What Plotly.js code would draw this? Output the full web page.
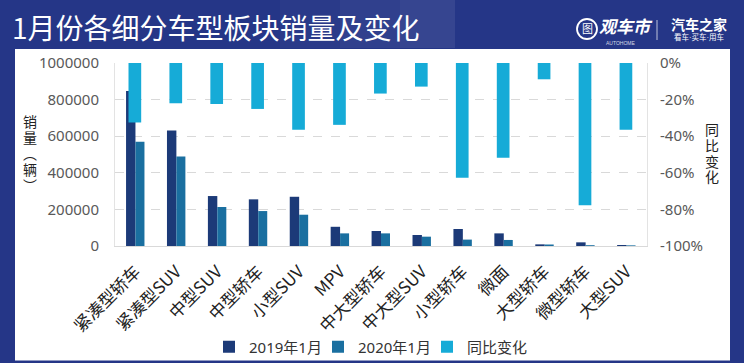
<!DOCTYPE html>
<html>
<head>
<meta charset="utf-8">
<script src="https://cdn.plot.ly/plotly-3.0.1.min.js"></script>
<style>
html,body{margin:0;padding:0;background:#253687;}
#chart{width:744px;height:363px;}
</style>
</head>
<body>
<div id="chart"></div>
<script>
// ---- data ----
const categories = ['紧凑型轿车','紧凑型SUV','中型SUV','中型轿车','小型SUV','MPV','中大型轿车','中大型SUV','小型轿车','微面','大型轿车','微型轿车','大型SUV'];
const sales2019 = [847000, 631000, 273000, 255000, 269000, 105000, 82000, 60000, 93000, 69000, 9000, 20000, 5500];
const sales2020 = [569000, 489000, 213000, 191000, 171000, 69000, 69000, 51000, 35000, 33000, 8200, 4400, 3500];
const yoyChange = [-32.5, -22, -22.4, -25.1, -36.5, -33.8, -16.7, -12.9, -62.7, -51.8, -8.9, -77.8, -36.5];
const salesTickVals = [0, 200000, 400000, 600000, 800000, 1000000];
const yoyTickVals = [0, -20, -40, -60, -80, -100];
const yoyTickText = ['0%', '-20%', '-40%', '-60%', '-80%', '-100%'];
const seriesNames = ['2019年1月', '2020年1月', '同比变化'];
const titleText = '1月份各细分车型板块销量及变化';
const leftTitleChars = ['销', '量', '︵', '辆', '︶'];
const rightTitleChars = ['同', '比', '变', '化'];

// ---- layout helpers (pixel -> paper) ----
const W = 744, H = 363;
const M = {l: 115, r: 97, t: 63, b: 117};
const PW = W - M.l - M.r, PH = H - M.t - M.b;
const px = x => (x - M.l) / PW;
const py = y => (H - M.b - y) / PH;

const FONT = 'Noto Sans, Noto Sans CJK SC, sans-serif';
const CJK = 'Noto Sans CJK SC, sans-serif';
const TIGHT = 'Liberation Sans, Noto Sans CJK SC, sans-serif';
const NAVY = '#253687';

const traces = [
  {type: 'bar', x: categories, y: sales2019, name: seriesNames[0], legend: 'legend',
   marker: {color: '#1c3a78'}, width: 0.23, offset: -0.23, hoverinfo: 'skip'},
  {type: 'bar', x: categories, y: sales2020, name: seriesNames[1], legend: 'legend2',
   marker: {color: '#1a6fa0'}, width: 0.22, offset: 0.0, hoverinfo: 'skip'},
  {type: 'bar', x: categories, y: yoyChange, name: seriesNames[2], yaxis: 'y2', legend: 'legend3',
   marker: {color: '#16abd7'}, width: 0.31, offset: -0.17, hoverinfo: 'skip'}
];

const shapes = [
  {type: 'rect', xref: 'paper', yref: 'paper', x0: px(15), x1: px(730), y0: py(360.5), y1: py(49),
   fillcolor: '#ffffff', line: {width: 0}, layer: 'below'},
  {type: 'rect', xref: 'paper', yref: 'paper', x0: px(280), x1: px(340), y0: py(48), y1: py(0),
   fillcolor: 'rgba(255,255,255,0.025)', line: {width: 0}, layer: 'below'},
  {type: 'rect', xref: 'paper', yref: 'paper', x0: px(340), x1: px(400), y0: py(48), y1: py(0),
   fillcolor: 'rgba(255,255,255,0.05)', line: {width: 0}, layer: 'below'},
  {type: 'rect', xref: 'paper', yref: 'paper', x0: px(400), x1: px(455), y0: py(48), y1: py(0),
   fillcolor: 'rgba(255,255,255,0.08)', line: {width: 0}, layer: 'below'},
  {type: 'circle', xref: 'paper', yref: 'paper', x0: px(577), x1: px(597), y0: py(39), y1: py(19),
   fillcolor: 'rgba(0,0,0,0)', line: {color: '#ffffff', width: 1.8}, layer: 'above'},
  {type: 'line', xref: 'paper', yref: 'paper', x0: px(657), x1: px(657), y0: py(40), y1: py(20),
   line: {color: 'rgba(255,255,255,0.7)', width: 1}, layer: 'above'}
];

const ann = (x, y, text, size, color, family, extra) => Object.assign({
  xref: 'paper', yref: 'paper', x: px(x), y: py(y), xanchor: 'center', yanchor: 'middle',
  text: text, showarrow: false, borderpad: 0, font: {family: family, size: size, color: color}}, extra || {});

const annotations = [
  ann(11, 27, titleText, 28, '#ffffff', CJK, {xanchor: 'left'}),
  ann(587, 29, '图', 11, '#ffffff', TIGHT),
  ann(598, 27, '<b><i>观车市</i></b>', 17, '#ffffff', TIGHT, {xanchor: 'left'}),
  ann(620, 42.5, 'AUTOHOME', 5, 'rgba(255,255,255,0.8)', TIGHT),
  ann(699, 24.5, '<b>汽车之家</b>', 14, '#ffffff', TIGHT),
  ann(699, 37.5, '看车·买车·用车', 7.5, '#ffffff', TIGHT)
];
const leftCenters = [121.5, 137.5, 153.5, 170, 186];
leftTitleChars.forEach((c, i) => annotations.push(ann(30, leftCenters[i], c, 14, '#222222', TIGHT)));
const rightCenters = [130, 145.8, 161.6, 177.4];
rightTitleChars.forEach((c, i) => annotations.push(ann(712, rightCenters[i], c, 14, '#222222', TIGHT)));

const legendBase = {orientation: 'h', xref: 'container', yref: 'container', xanchor: 'left',
  y: 1 - 347 / H, yanchor: 'middle', font: {family: FONT, size: 15, color: '#333333'},
  itemwidth: 30, bgcolor: 'rgba(0,0,0,0)'};

const layout = {
  width: W, height: H,
  margin: M,
  paper_bgcolor: NAVY,
  plot_bgcolor: 'rgba(0,0,0,0)',
  font: {family: FONT, color: '#595959'},
  barmode: 'overlay',
  showlegend: true,
  legend: Object.assign({}, legendBase, {x: 209 / W}),
  legend2: Object.assign({}, legendBase, {x: 318 / W}),
  legend3: Object.assign({}, legendBase, {x: 427 / W}),
  xaxis: {type: 'category', tickangle: -45, tickfont: {family: CJK, size: 17, color: '#222222'},
          showline: true, linecolor: '#d9d9d9', linewidth: 1, showgrid: false, ticks: '',
          ticklabelstandoff: 8, automargin: false, fixedrange: true},
  yaxis: {range: [0, 1000000], tickvals: salesTickVals, tickformat: 'd',
          tickfont: {family: FONT, size: 15, color: '#595959'},
          showgrid: true, gridcolor: '#d9d9d9', griddash: 'dash', gridwidth: 1,
          showline: true, mirror: true, linecolor: '#e3e3e3', zeroline: false,
          ticks: '', ticklabelstandoff: 12, automargin: false, fixedrange: true},
  yaxis2: {range: [-100, 0], overlaying: 'y', side: 'right', tickvals: yoyTickVals, ticktext: yoyTickText,
           tickfont: {family: FONT, size: 15, color: '#595959'}, showgrid: false, zeroline: false,
           ticks: '', ticklabelstandoff: 12, automargin: false, fixedrange: true},
  shapes: shapes,
  annotations: annotations
};

Plotly.newPlot('chart', traces, layout, {displayModeBar: false, staticPlot: true});
</script>
</body>
</html>
